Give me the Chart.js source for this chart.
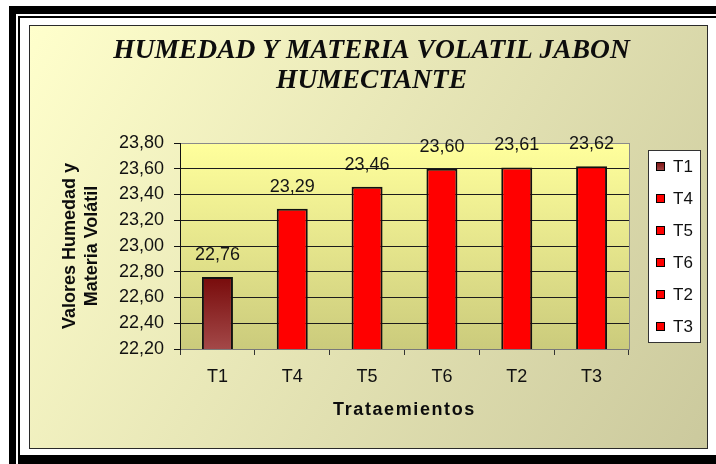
<!DOCTYPE html>
<html>
<head>
<meta charset="utf-8">
<script src="https://cdn.jsdelivr.net/npm/chart.js@4.4.0/dist/chart.umd.min.js"></script>
<style>
  html, body { margin: 0; padding: 0; background: #fff; width: 716px; height: 464px; overflow: hidden; position: relative; }
  .f { position: absolute; }
  #panel { position: absolute; left: 29px; top: 25px; width: 677px; height: 422px; border: 1px solid #2a2a2a; }
  #panel canvas { display: block; }
</style>
</head>
<body>
<div class="f" style="left:9px;top:6px;width:720px;height:470px;background:#000"></div>
<div class="f" style="left:16px;top:14px;width:720px;height:470px;background:#fff"></div>
<div class="f" style="left:18px;top:16px;width:720px;height:470px;background:#000"></div>
<div class="f" style="left:20px;top:18px;width:720px;height:437px;background:#fff"></div>
<div id="panel"><canvas id="grafico" width="677" height="422"></canvas></div>

<script>
// datos
var categorias = ['T1', 'T4', 'T5', 'T6', 'T2', 'T3'];
var valores = [22.76, 23.29, 23.46, 23.60, 23.61, 23.62];
var ticksY = [22.2, 22.4, 22.6, 22.8, 23.0, 23.2, 23.4, 23.6, 23.8];
var etiquetasY = ['22,20', '22,40', '22,60', '22,80', '23,00', '23,20', '23,40', '23,60', '23,80'];

var titulo = ['HUMEDAD Y MATERIA VOLATIL JABON', 'HUMECTANTE'];
var tituloY = ['Valores Humedad y', 'Materia Volátil'];
var tituloX = 'Trataemientos';

var colores = ['#8b1c1c', '#ff0000', '#ff0000', '#ff0000', '#ff0000', '#ff0000'];
var sans = '"Liberation Sans", Arial, sans-serif';

function formato(v) {
  return v.toFixed(2).replace('.', ',');
}

function gradT1(ctx, top, bottom) {
  var g = ctx.createLinearGradient(0, top, 0, bottom);
  g.addColorStop(0, '#780b0b');
  g.addColorStop(1, '#a34848');
  return g;
}

// fondo del panel y del area de trazado
var fondo = {
  id: 'fondo',
  beforeDraw: function (chart) {
    var ctx = chart.ctx, a = chart.chartArea;
    ctx.letterSpacing = '0px';
    ctx.save();
    var g = ctx.createLinearGradient(0, 0, chart.width, chart.height);
    g.addColorStop(0, '#ffffcc');
    g.addColorStop(1, '#cbc99d');
    ctx.fillStyle = g;
    ctx.fillRect(0, 0, chart.width, chart.height);
    g = ctx.createLinearGradient(0, a.top, 0, a.bottom);
    g.addColorStop(0, '#ffff9c');
    g.addColorStop(1, '#cbcb7c');
    ctx.fillStyle = g;
    ctx.fillRect(a.left, a.top, a.right - a.left, a.bottom - a.top);
    ctx.restore();
  }
};

// valores encima de cada barra
var etiquetas = {
  id: 'etiquetas',
  afterDatasetsDraw: function (chart) {
    var ctx = chart.ctx;
    var meta = chart.getDatasetMeta(0);
    ctx.save();
    ctx.font = '18px ' + sans;
    ctx.fillStyle = '#151515';
    ctx.textAlign = 'center';
    ctx.textBaseline = 'middle';
    meta.data.forEach(function (bar, i) {
      ctx.fillText(formato(valores[i]), bar.x, bar.y - 22);
    });
    ctx.restore();
    // el titulo del eje X (eje x2, dibujado despues) va espaciado
    ctx.letterSpacing = '1.6px';
  }
};

// leyenda con recuadro blanco
var leyenda = {
  id: 'leyenda',
  afterDraw: function (chart) {
    var ctx = chart.ctx;
    ctx.letterSpacing = '0px';
    ctx.save();
    ctx.fillStyle = '#fff';
    ctx.fillRect(618, 124, 52, 192);
    ctx.strokeStyle = '#333';
    ctx.lineWidth = 1;
    ctx.strokeRect(618.5, 124.5, 52, 192);
    ctx.font = '17px ' + sans;
    ctx.textBaseline = 'middle';
    ctx.textAlign = 'left';
    categorias.forEach(function (c, i) {
      var y = 140 + i * 32.1;
      ctx.fillStyle = i === 0 ? gradT1(ctx, y - 4.5, y + 4.5) : colores[i];
      ctx.fillRect(626, Math.round(y - 4.5), 9, 9);
      ctx.strokeStyle = '#000';
      ctx.strokeRect(626.5, Math.round(y - 4.5) + 0.5, 8, 8);
      ctx.fillStyle = '#111';
      ctx.fillText(c, 643, y + 1);
    });
    ctx.restore();
  }
};

new Chart(document.getElementById('grafico'), {
  type: 'bar',
  data: {
    labels: categorias,
    datasets: [{
      data: valores,
      backgroundColor: function (ctx) {
        var c = ctx.chart;
        if (ctx.dataIndex !== 0) return colores[ctx.dataIndex];
        if (!c.chartArea) return colores[0];
        return gradT1(c.ctx, c.scales.y.getPixelForValue(valores[0]), c.chartArea.bottom);
      },
      borderColor: '#111',
      borderWidth: 2,
      barPercentage: 0.414,
      categoryPercentage: 1
    }]
  },
  options: {
    responsive: false,
    animation: false,
    layout: { padding: { left: 6, right: 0, top: 0, bottom: 0 } },
    plugins: {
      legend: { display: false },
      tooltip: { enabled: false },
      title: {
        display: true,
        text: titulo,
        color: '#0d0d0d',
        font: { family: '"Liberation Serif", "Times New Roman", serif', size: 27.5, weight: 'bold', style: 'italic', lineHeight: 1.062 },
        padding: { top: 10.7, bottom: 47.9 }
      }
    },
    scales: {
      x: {
        grid: { display: true, drawOnChartArea: false, drawTicks: true, tickLength: 6, tickColor: '#333', offset: true },
        border: { display: true, color: '#7a7a7a', width: 1 },
        ticks: { color: '#111', font: { family: sans, size: 18 }, padding: 11 },
        afterFit: function (s) { s.height = 49; }
      },
      x2: {
        type: 'category',
        position: 'bottom',
        grid: { display: false, z: 1 },
        border: { display: false },
        ticks: { display: false },
        title: { display: true, text: tituloX, color: '#0d0d0d', font: { family: sans, size: 18, weight: 'bold', lineHeight: 1.2 }, padding: { top: 0, bottom: 26.7 } },
        afterFit: function (s) { s.height = 50; }
      },
      y: {
        min: 22.2,
        max: 23.8,
        afterBuildTicks: function (s) { s.ticks = ticksY.map(function (v) { return { value: v }; }); },
        grid: {
          color: function (ctx) { return ctx.tick && ctx.tick.value > 23.79 ? '#8a8a8a' : '#1c1c1c'; },
          tickColor: '#111',
          tickLength: 6,
          lineWidth: 1
        },
        border: { display: true, color: '#111', width: 1 },
        ticks: {
          color: '#111',
          font: { family: sans, size: 18 },
          padding: 10,
          callback: function (v, i) { return etiquetasY[i]; }
        },
        title: { display: true, text: tituloY, color: '#0d0d0d', font: { family: sans, size: 18, weight: 'bold', lineHeight: 1.256 }, padding: { top: 22.4, bottom: 0 } },
        afterFit: function (s) { s.width = 144; }
      },
      y2: {
        position: 'right',
        grid: { display: false },
        ticks: { display: false },
        border: { display: true, color: '#8a8a8a', width: 1 },
        afterFit: function (s) { s.width = 78; }
      }
    }
  },
  plugins: [fondo, etiquetas, leyenda]
});
</script>
</body>
</html>
